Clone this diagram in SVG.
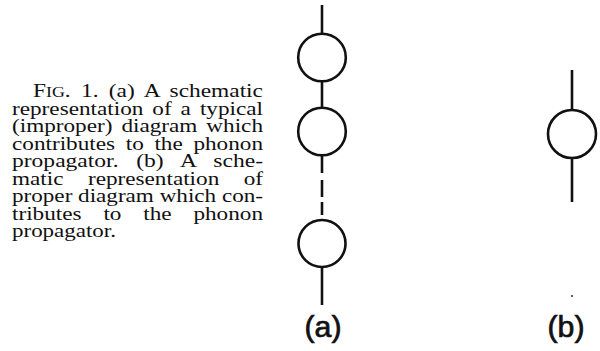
<svg xmlns="http://www.w3.org/2000/svg" width="600" height="351" viewBox="0 0 600 351">
<style>
.cap{font-family:"Liberation Serif","Times New Roman",serif;font-size:19px;fill:#111}
.sc{font-size:14.5px}
.lbl{font-family:"Liberation Sans",Arial,sans-serif;font-size:29px;fill:#111;stroke:#111;stroke-width:0.7}
.ln{stroke:#111;stroke-width:2.6;fill:none;stroke-linecap:butt}
.nd{stroke:#111;stroke-width:2.6;fill:#fff}
</style>
<rect width="600" height="351" fill="#fff"/>
<g id="caption">
<text class="cap" x="33" y="97" textLength="230" lengthAdjust="spacingAndGlyphs" word-spacing="3.6">F<tspan class="sc">IG</tspan>. 1. (a) A schematic</text>
<text class="cap" x="12" y="114.5" textLength="251" lengthAdjust="spacingAndGlyphs" word-spacing="2.6">representation of a typical</text>
<text class="cap" x="12" y="132" textLength="251" lengthAdjust="spacingAndGlyphs" word-spacing="2.6">(improper) diagram which</text>
<text class="cap" x="12" y="149.5" textLength="251" lengthAdjust="spacingAndGlyphs" word-spacing="4">contributes to the phonon</text>
<text class="cap" x="12" y="167" textLength="251" lengthAdjust="spacingAndGlyphs" word-spacing="9.5">propagator. (b) A sche-</text>
<text class="cap" x="12" y="184.5" textLength="251" lengthAdjust="spacingAndGlyphs" word-spacing="15.3">matic representation of</text>
<text class="cap" x="12" y="202" textLength="251" lengthAdjust="spacingAndGlyphs">proper diagram which con-</text>
<text class="cap" x="12" y="219.5" textLength="251" lengthAdjust="spacingAndGlyphs" word-spacing="13.1">tributes to the phonon</text>
<text class="cap" x="12" y="237" textLength="104" lengthAdjust="spacingAndGlyphs">propagator.</text>
</g>
<g id="connectors">
<line class="ln" x1="322" y1="5" x2="322" y2="34"/>
<line class="ln" x1="322" y1="81" x2="322" y2="108"/>
<line class="ln" x1="322" y1="155" x2="322" y2="173"/>
<line class="ln" x1="322" y1="180" x2="322" y2="197"/>
<line class="ln" x1="322" y1="202" x2="322" y2="215"/>
<line class="ln" x1="322" y1="267" x2="322" y2="305"/>
<line class="ln" x1="572" y1="70" x2="572" y2="110"/>
<line class="ln" x1="572" y1="158" x2="572" y2="202"/>
</g>
<g id="a-node1"><circle class="nd" cx="322" cy="57.5" r="23.8"/></g>
<g id="a-node2"><circle class="nd" cx="322" cy="131.5" r="23.8"/></g>
<g id="a-node3"><circle class="nd" cx="322" cy="243.5" r="23.5"/></g>
<g id="b-node"><circle class="nd" cx="572" cy="134" r="24"/></g>
<circle cx="572" cy="296" r="1.1" fill="#333"/>
<g id="labels">
<text class="lbl" x="323" y="337" text-anchor="middle" textLength="37" lengthAdjust="spacingAndGlyphs">(a)</text>
<text class="lbl" x="566" y="337" text-anchor="middle" textLength="37" lengthAdjust="spacingAndGlyphs">(b)</text>
</g>
</svg>
